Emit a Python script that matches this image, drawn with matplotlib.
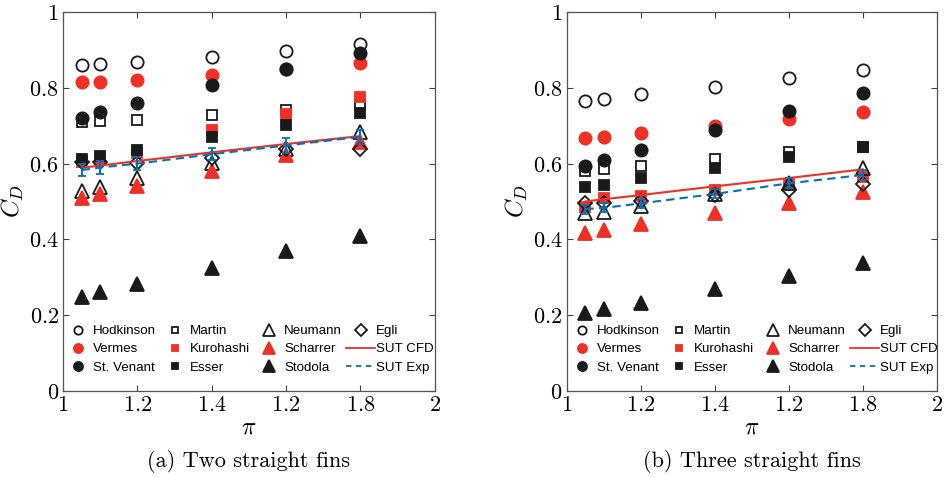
import matplotlib
matplotlib.use("Agg")
import matplotlib.pyplot as plt
from matplotlib.lines import Line2D

plt.rcParams['mathtext.fontset'] = 'cm'

# pressure ratio values
pi_vals = [1.05, 1.1, 1.2, 1.4, 1.6, 1.8]

# (a) two straight fins
a_hodkinson = [0.861, 0.863, 0.868, 0.883, 0.899, 0.917]
a_vermes = [0.815, 0.815, 0.821, 0.835, 0.850, 0.867]
a_stvenant = [0.722, 0.736, 0.761, 0.808, 0.850, 0.892]
a_martin = [0.710, 0.712, 0.715, 0.728, 0.743, 0.757]
a_kurohashi = [0.605, 0.612, 0.628, 0.689, 0.731, 0.777]
a_esser = [0.612, 0.621, 0.636, 0.671, 0.703, 0.735]
a_neumann = [0.528, 0.539, 0.561, 0.602, 0.640, 0.683]
a_scharrer = [0.510, 0.519, 0.541, 0.581, 0.622, 0.657]
a_stodola = [0.248, 0.260, 0.281, 0.324, 0.369, 0.409]
a_egli = [0.605, 0.605, 0.602, 0.615, 0.638, 0.640]
a_cfd = [0.589, 0.595, 0.607, 0.630, 0.652, 0.673]
a_exp = [0.583, 0.590, 0.600, 0.625, 0.648, 0.671]
a_exp_err = [0.016, 0.017, 0.017, 0.016, 0.019, 0.018]

# (b) three straight fins
b_hodkinson = [0.767, 0.771, 0.784, 0.804, 0.826, 0.849]
b_vermes = [0.667, 0.671, 0.680, 0.700, 0.717, 0.737]
b_stvenant = [0.595, 0.610, 0.636, 0.689, 0.740, 0.786]
b_martin = [0.581, 0.587, 0.594, 0.612, 0.630, 0.643]
b_kurohashi = [0.486, 0.508, 0.515, 0.530, 0.545, 0.564]
b_esser = [0.538, 0.544, 0.561, 0.589, 0.617, 0.643]
b_neumann = [0.469, 0.473, 0.489, 0.519, 0.550, 0.588]
b_scharrer = [0.416, 0.425, 0.440, 0.469, 0.497, 0.526]
b_stodola = [0.204, 0.215, 0.231, 0.268, 0.303, 0.336]
b_egli = [0.497, 0.495, 0.500, 0.517, 0.530, 0.546]
b_cfd = [0.500, 0.506, 0.517, 0.540, 0.562, 0.585]
b_exp = [0.480, 0.483, 0.495, 0.520, 0.548, 0.570]
b_exp_err = [0.012, 0.012, 0.012, 0.012, 0.013, 0.013]

xticks = [1, 1.2, 1.4, 1.6, 1.8, 2]
xticklabels = ['1', '1.2', '1.4', '1.2', '1.8', '2']
yticks = [0, 0.2, 0.4, 0.6, 0.8, 1]
yticklabels = ['0', '0.2', '0.4', '0.6', '0.8', '1']
captions = ['(a) Two straight fins', '(b) Three straight fins']

names = ['Hodkinson', 'Vermes', 'St. Venant', 'Martin', 'Kurohashi', 'Esser',
         'Neumann', 'Scharrer', 'Stodola', 'Egli']

RED = '#ee3124'
BLK = '#1a1a1a'
BLUE = '#0072bd'

# marker, size in plot, size in legend, face, edge
styles = [
    ('o', 8.8, 6, 'none', BLK),
    ('o', 8.8, 6.5, RED, RED),
    ('o', 8.8, 6.5, BLK, BLK),
    ('s', 6.5, 5, 'none', BLK),
    ('s', 6.5, 5, RED, RED),
    ('s', 6.5, 5, BLK, BLK),
    ('^', 9.5, 8, 'none', BLK),
    ('^', 9.5, 8, RED, RED),
    ('^', 9.5, 8, BLK, BLK),
    ('D', 7, 6, 'none', BLK),
]

panels = [
    ([a_hodkinson, a_vermes, a_stvenant, a_martin, a_kurohashi, a_esser,
      a_neumann, a_scharrer, a_stodola, a_egli], a_cfd, a_exp, a_exp_err),
    ([b_hodkinson, b_vermes, b_stvenant, b_martin, b_kurohashi, b_esser,
      b_neumann, b_scharrer, b_stodola, b_egli], b_cfd, b_exp, b_exp_err),
]

fig = plt.figure(figsize=(9.48, 4.78), dpi=100)
axes = [fig.add_axes([0.0665, 0.183, 0.392, 0.791]),
        fig.add_axes([0.598, 0.183, 0.390, 0.791])]

for ax, (series, cfd, exp, err), cap in zip(axes, panels, captions):
    handles = []
    for name, vals, (m, ms, lms, fc, ec) in zip(names, series, styles):
        ax.plot(pi_vals, vals, linestyle='none', marker=m, markersize=ms,
                markerfacecolor=fc, markeredgecolor=ec, markeredgewidth=1.3)
        handles.append(Line2D([], [], linestyle='none', marker=m, markersize=lms,
                              markerfacecolor=fc, markeredgecolor=ec,
                              markeredgewidth=1.3, label=name))
    ax.plot(pi_vals, cfd, color=RED, lw=1.5)
    ax.errorbar(pi_vals, exp, yerr=err, color=BLUE, lw=1.5, ls='--',
                dashes=(4, 2.5), capsize=3, elinewidth=1.5, capthick=1.3)
    handles.append(Line2D([], [], color=RED, lw=1.3, label='SUT CFD'))
    handles.append(Line2D([], [], color=BLUE, lw=1.3, ls='--', dashes=(3, 2.5),
                          label='SUT Exp'))

    ax.set_xlim(1, 2)
    ax.set_ylim(0, 1)
    ax.set_xticks(xticks)
    ax.set_xticklabels(['$%s$' % t for t in xticklabels], fontsize=16)
    ax.set_yticks(yticks)
    ax.set_yticklabels(['$%s$' % t for t in yticklabels], fontsize=16)
    ax.tick_params(direction='in', top=True, right=True, length=4,
                   color='#404040', pad=3)
    for sp in ax.spines.values():
        sp.set_color('#555555')
        sp.set_linewidth(0.9)
    ax.set_ylabel('$C_D$', fontsize=18, labelpad=2)
    ax.set_xlabel(r'$\pi$', fontsize=17, labelpad=0)

    ax.legend(handles=handles, ncol=4, loc='lower left',
              bbox_to_anchor=(0.0, 0.045), frameon=False,
              prop={'family': 'Liberation Sans', 'size': 9.6},
              handlelength=2.2, handletextpad=0.05, columnspacing=0.3,
              labelspacing=0.43, borderpad=0.0, borderaxespad=0.0)

    ax.text(0.5, -0.158, cap, transform=ax.transAxes, ha='center', va='top',
            fontsize=16, family='cmr10')

fig.savefig('out.png', dpi=100)
